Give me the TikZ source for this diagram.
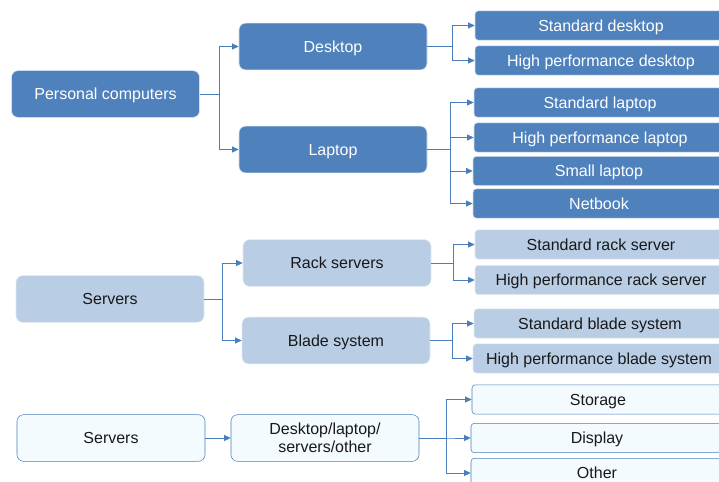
\documentclass[tikz,border=0pt]{standalone}
\usepackage{fontspec}
\setmainfont{Liberation Sans}
\usetikzlibrary{arrows.meta}
\usepackage{xcolor}
\definecolor{pcblue}{HTML}{4F81BD}
\definecolor{srvblue}{HTML}{B9CDE5}
\definecolor{lineblue}{HTML}{4A7EBB}
\definecolor{palefill}{HTML}{F3FBFE}

\begin{document}
\begin{tikzpicture}[x=0.75pt,y=-0.75pt,
	hub/.style={rounded corners=5pt,minimum width=141pt,minimum height=35pt,inner sep=0pt,text height=8.6pt,text depth=0pt,font=\fontsize{12}{13.5}\selectfont},
	leaf/.style={rounded corners=2.5pt,minimum width=189pt,minimum height=22pt,inner sep=0pt,text height=8.6pt,text depth=0pt,font=\fontsize{12}{13.5}\selectfont},
	pcbox/.style={fill=pcblue,draw=white!75!pcblue,text=white},
	srvbox/.style={fill=srvblue,draw=white!60!srvblue,text=black!90},
	miscbox/.style={fill=palefill,draw=lineblue,text=black!90},
	arr/.style={draw=lineblue,line width=0.75pt,-{Triangle[length=5pt,width=4.5pt]}}]
				\clip (0,0) rectangle (719,482);
				% personal computers
				\node(pc) at (105.5,94)[hub,pcbox]{Personal computers};
				\node(dt) at (333,46.5)[hub,pcbox]{Desktop};
				\node(lt) at (333,149.5)[hub,pcbox]{Laptop};
				\node(dt1) at (601,25.5)[leaf,pcbox]{Standard desktop};
				\node(dt2) at (601,60.5)[leaf,pcbox]{High performance desktop};
				\node(lt1) at (600,102.5)[leaf,pcbox]{Standard laptop};
				\node(lt2) at (600,137.5)[leaf,pcbox]{High performance laptop};
				\node(lt3) at (599,171)[leaf,pcbox]{Small laptop};
				\node(lt4) at (599,203.5)[leaf,pcbox]{Netbook};
				\draw[arr] (pc.east) -- ++(20,0) |- (dt.west);
				\draw[arr] (pc.east) -- ++(20,0) |- (lt.west);
				\foreach \n in {dt1,dt2}
					\draw[arr] (dt.east) -- ++(25,0) |- (\n.west);
				\foreach \n in {lt1,lt2,lt3,lt4}
					\draw[arr] (lt.east) -- ++(23,0) |- (\n.west);
				% servers
				\node(sv) at (110,299)[hub,srvbox]{Servers};
				\node(rk) at (337,263)[hub,srvbox]{Rack servers};
				\node(bl) at (336,340.5)[hub,srvbox]{Blade system};
				\node(rk1) at (601,244.5)[leaf,srvbox]{Standard rack server};
				\node(rk2) at (601,280)[leaf,srvbox]{High performance rack server};
				\node(bl1) at (600,323.5)[leaf,srvbox]{Standard blade system};
				\node(bl2) at (599,358.5)[leaf,srvbox]{High performance blade system};
				\draw[arr] (sv.east) -- ++(18,0) |- (rk.west);
				\draw[arr] (sv.east) -- ++(18,0) |- (bl.west);
				\foreach \n in {rk1,rk2}
					\draw[arr] (rk.east) -- ++(22,0) |- (\n.west);
				\foreach \n in {bl1,bl2}
					\draw[arr] (bl.east) -- ++(22,0) |- (\n.west);
				% other
				\node(sv3) at (111,438)[hub,miscbox]{Servers};
				\node(mx) at (325,438)[hub,miscbox,align=center,text height={},text depth={}]{Desktop/laptop/\\servers/other};
				\node(ot1) at (598,399.5)[leaf,miscbox]{Storage};
				\node(ot2) at (597,438)[leaf,miscbox]{Display};
				\node(ot3) at (597,473)[leaf,miscbox]{Other};
				\draw[arr] (sv3.east) -- (mx.west);
				\foreach \n in {ot1,ot2,ot3}
					\draw[arr] (mx.east) -- ++(27,0) |- (\n.west);
			\end{tikzpicture}
\end{document}
